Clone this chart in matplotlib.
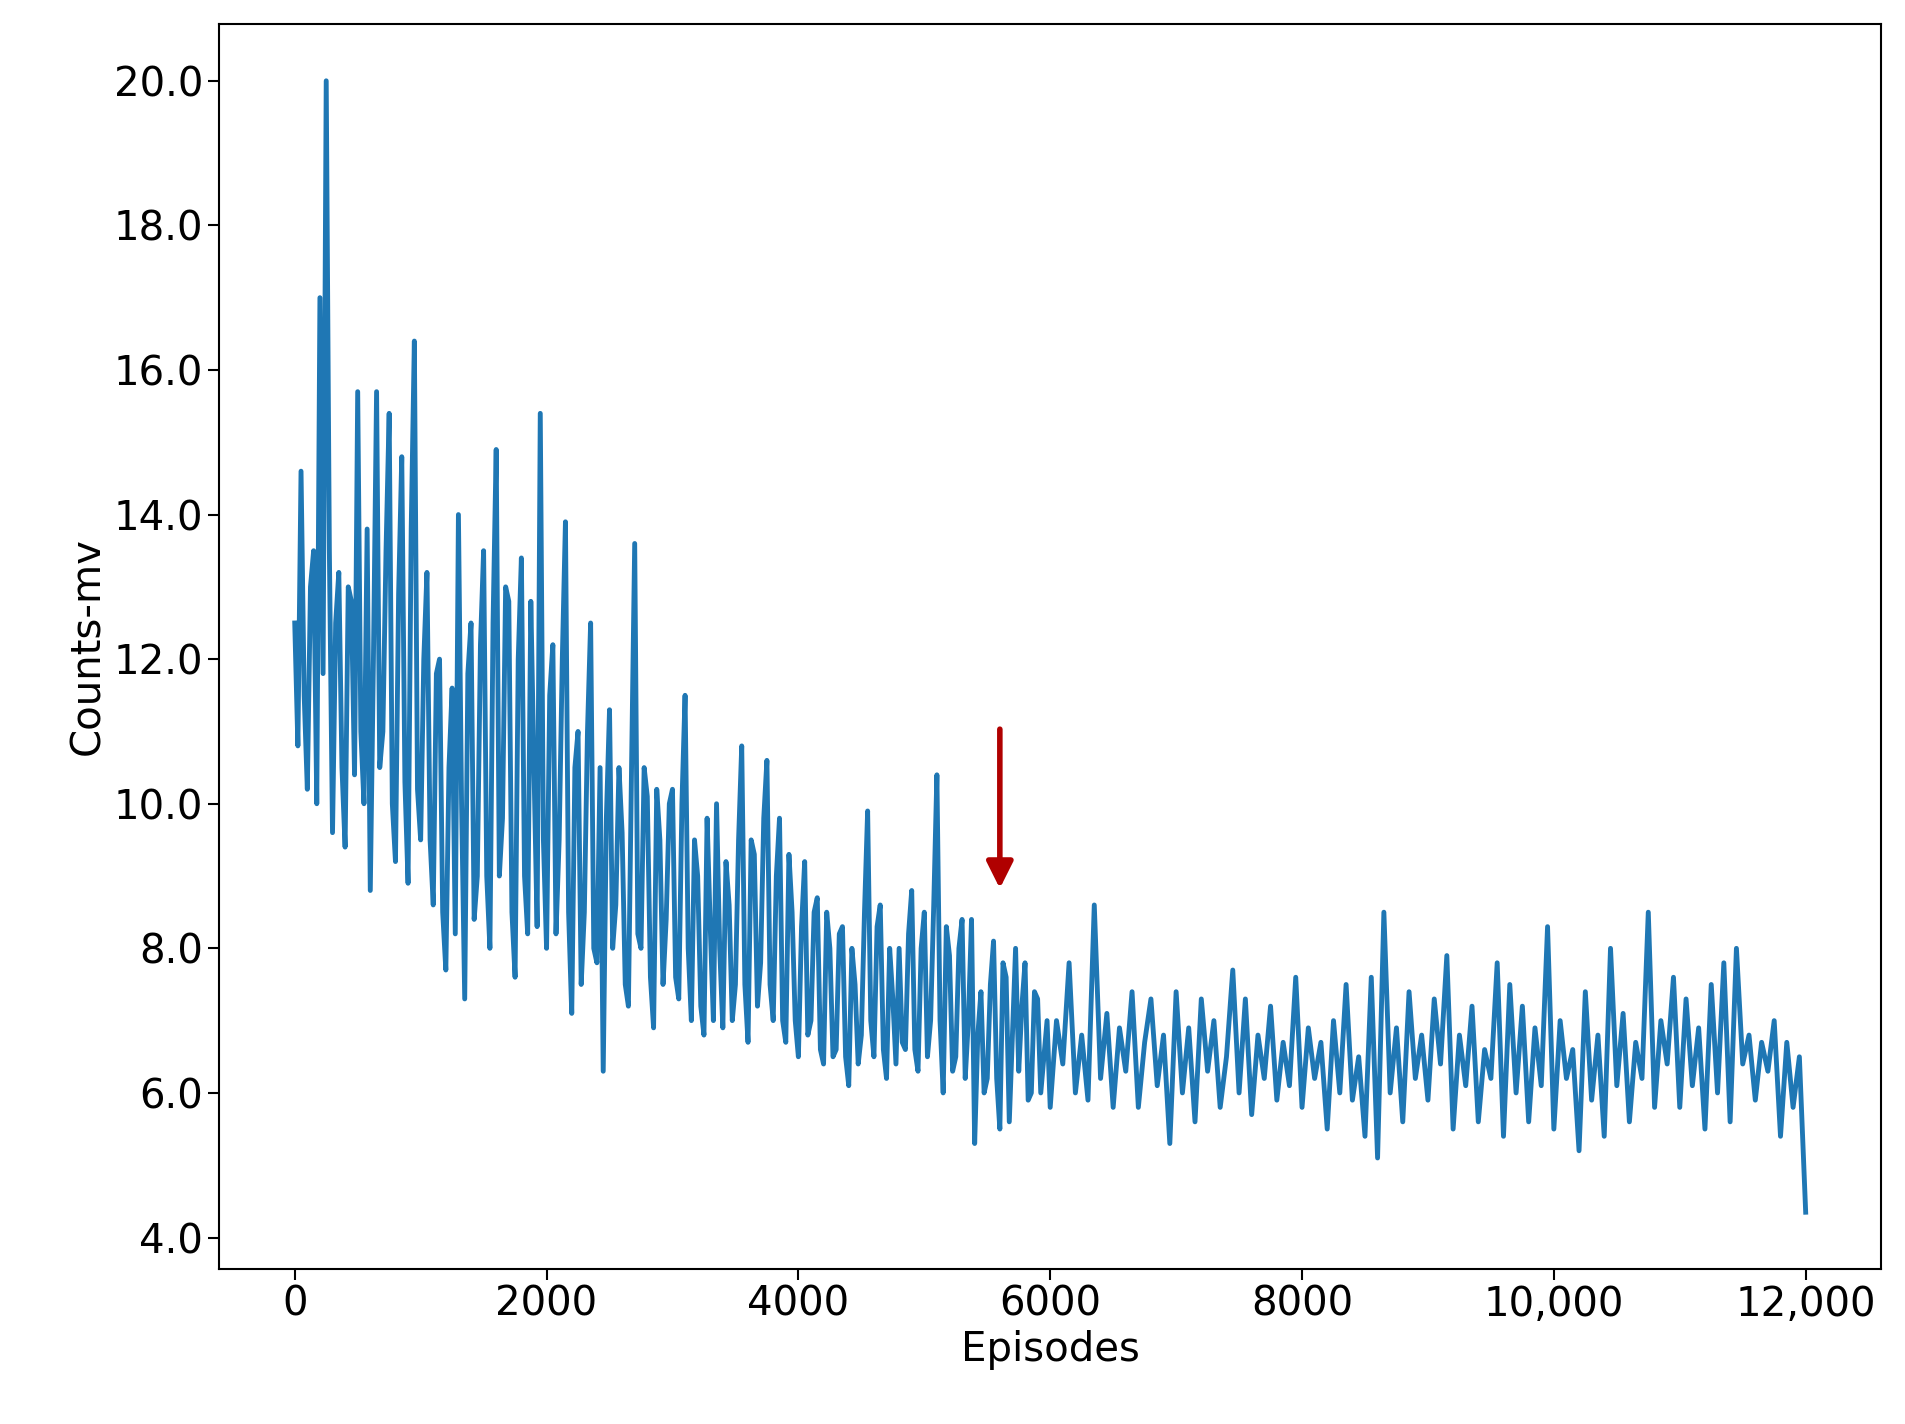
import numpy as np
import matplotlib
matplotlib.use("Agg")
import matplotlib.pyplot as plt
from matplotlib.ticker import FuncFormatter

# Values, one sample every 50 episodes
episodes_main = list(range(0, 12001, 50))
counts_main = [
    12.5, 14.6, 10.2, 13.5, 17.0, 20.0, 9.6, 13.2, 9.4, 12.8, 15.7, 10.0, 8.8, 15.7, 11.0, 15.4, 9.2, 14.8, 8.9, 16.4,
    9.5, 13.2, 8.6, 12.0, 7.7, 11.6, 14.0, 7.3, 12.5, 9.0, 13.5, 8.0, 14.9, 9.8, 12.8, 7.6, 13.4, 8.2, 10.5, 15.4,
    8.0, 12.2, 9.5, 13.9, 7.1, 11.0, 8.5, 12.5, 7.8, 6.3, 11.3, 8.6, 9.6, 7.2, 13.6, 8.0, 10.1, 6.9, 9.5, 8.4,
    10.2, 7.3, 11.5, 7.0, 9.0, 6.8, 8.3, 10.0, 6.9, 8.6, 7.5, 10.8, 6.7, 9.3, 7.8, 10.6, 7.0, 9.8, 6.7, 8.5,
    6.5, 9.2, 7.0, 8.7, 6.4, 8.0, 6.6, 8.3, 6.1, 7.5, 6.8, 9.9, 6.5, 8.6, 6.2, 7.3, 8.0, 6.6, 8.8, 6.3,
    8.5, 7.0, 10.4, 6.0, 7.9, 6.5, 8.4, 7.0, 5.3, 7.4, 6.2, 8.1, 5.5, 7.6, 6.8, 6.3, 7.8, 6.0, 7.3, 6.5,
    5.8, 7.0, 6.4, 7.8, 6.0, 6.8, 5.9, 8.6, 6.2, 7.1, 5.8, 6.9, 6.3, 7.4, 5.8, 6.7, 7.3, 6.1, 6.8, 5.3,
    7.4, 6.0, 6.9, 5.6, 7.3, 6.3, 7.0, 5.8, 6.5, 7.7, 6.0, 7.3, 5.7, 6.8, 6.2, 7.2, 5.9, 6.7, 6.1, 7.6,
    5.8, 6.9, 6.2, 6.7, 5.5, 7.0, 6.0, 7.5, 5.9, 6.5, 5.4, 7.6, 5.1, 8.5, 6.0, 6.9, 5.6, 7.4, 6.2, 6.8,
    5.9, 7.3, 6.4, 7.9, 5.5, 6.8, 6.1, 7.2, 5.6, 6.6, 6.2, 7.8, 5.4, 7.5, 6.0, 7.2, 5.6, 6.9, 6.1, 8.3,
    5.5, 7.0, 6.2, 6.6, 5.2, 7.4, 5.9, 6.8, 5.4, 8.0, 6.1, 7.1, 5.6, 6.7, 6.2, 8.5, 5.8, 7.0, 6.4, 7.6,
    5.8, 7.3, 6.1, 6.9, 5.5, 7.5, 6.0, 7.8, 5.6, 8.0, 6.4, 6.8, 5.9, 6.7, 6.3, 7.0, 5.4, 6.7, 5.8, 6.5,
    4.35,
]

# Extra samples in between (episodes 25, 75, ... 5975) where the band is wide
episodes_mid = list(range(25, 6000, 50))
counts_mid = [
    10.8, 11.5, 13.0, 10.0, 11.8, 13.5, 12.5, 10.5, 13.0, 10.4, 11.0, 13.8, 12.0, 10.5, 13.5, 10.0, 12.9, 10.3, 13.8, 10.2,
    12.0, 9.5, 11.8, 8.5, 10.5, 8.2, 10.0, 11.8, 8.4, 12.2, 9.0, 12.5, 9.0, 13.0, 8.5, 12.0, 9.0, 12.8, 8.3, 9.5,
    11.5, 8.2, 12.0, 8.5, 10.5, 7.5, 11.0, 8.0, 10.5, 9.8, 8.0, 10.5, 7.5, 10.5, 8.2, 10.5, 7.6, 10.2, 7.5, 10.0,
    7.6, 10.0, 8.0, 9.5, 7.2, 9.8, 7.0, 8.0, 9.2, 7.0, 9.5, 7.5, 9.5, 7.2, 9.8, 7.5, 9.0, 7.0, 9.3, 7.0,
    8.3, 6.8, 8.5, 6.6, 8.5, 6.5, 8.2, 6.5, 8.0, 6.4, 8.5, 7.0, 8.3, 6.6, 8.0, 6.4, 6.7, 8.2, 6.6, 8.0,
    6.5, 8.6, 7.0, 8.3, 6.3, 8.0, 6.2, 8.4, 6.8, 6.0, 7.5, 6.2, 7.8, 5.6, 8.0, 7.2, 5.9, 7.4, 6.0, 7.0,
]

# Arrow marking the convergence point
arrow_x = 5600
arrow_top = 11.07
arrow_tip = 8.79

# merge both sample sets in episode order
pairs = sorted(zip(episodes_main + episodes_mid, counts_main + counts_mid))
episodes = [p[0] for p in pairs]
counts_mv = [p[1] for p in pairs]

fig, ax = plt.subplots(figsize=(19.06, 14.24), dpi=100)
ax.plot(episodes, counts_mv, color="#1f77b4", linewidth=3.5)

ax.annotate("", xy=(arrow_x, arrow_tip), xytext=(arrow_x, arrow_top),
            arrowprops=dict(arrowstyle="-|>,head_width=0.8,head_length=1.6",
                            color="#b00000", lw=4))

ax.set_xlabel("Episodes", fontsize=29)
ax.set_ylabel("Counts-mv", fontsize=29)
ax.tick_params(labelsize=29, length=8, width=1.5)
ax.set_xticks(range(0, 12001, 2000))
ax.set_yticks(np.arange(4, 20.1, 2))
ax.xaxis.set_major_formatter(FuncFormatter(lambda v, p: f"{v:,.0f}" if v >= 10000 else f"{v:.0f}"))
ax.yaxis.set_major_formatter(FuncFormatter(lambda v, p: f"{v:.1f}"))
for s in ax.spines.values():
    s.set_linewidth(1.5)

plt.subplots_adjust(left=0.115, right=0.987, top=0.983, bottom=0.109)
plt.savefig("out.png")
